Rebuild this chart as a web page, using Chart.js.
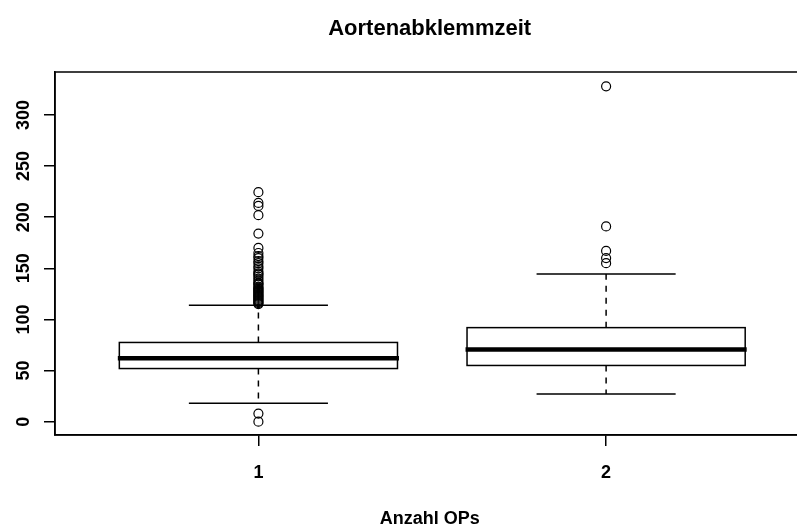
<!DOCTYPE html>
<html>
<head>
<meta charset="utf-8">
<script src="https://cdn.jsdelivr.net/npm/chart.js@4"></script>
<style>
	html, body { margin: 0; padding: 0; overflow: hidden; background: #fff; }
	#wrap { width: 810px; height: 527px; }
</style>
</head>
<body>
<div id="wrap"><canvas id="boxChart" width="810" height="527"></canvas></div>
<script>
// Boxplot statistics per group
const categories = ['1', '2'];
const whiskerLow = [18, 27];
const q1 = [52, 55];
const median = [62, 70.5];
const q3 = [77.5, 92];
const whiskerHigh = [114, 144.5];

const outliers1 = [0, 8, 115, 116, 117, 118, 119, 120, 121, 122, 123, 124, 125, 126, 127, 128, 129, 130,
	131, 132, 134, 135, 136, 138, 140, 142, 144, 145, 147, 150, 152, 155, 157, 160, 162, 165, 170,
	184, 202, 211, 214, 224.5];
const outliers2 = [155, 160, 167, 191, 328];

const yTicks = [0, 50, 100, 150, 200, 250, 300];

const FONT = '"Liberation Sans", Arial, sans-serif';

function boxChartConfig() {
	const boxPlugin = {
		id: 'boxPlugin',
		beforeDatasetsDraw(chart) {
			const { ctx, scales: { x, y } } = chart;
			ctx.save();
			ctx.strokeStyle = '#000';
			categories.forEach((c, i) => {
				const cx = x.getPixelForValue(i + 1);
				const half = x.getPixelForValue(i + 1.4) - cx;
				const capHalf = half / 2;
				const yq1 = y.getPixelForValue(q1[i]);
				const yq3 = y.getPixelForValue(q3[i]);

				// dashed whiskers
				ctx.lineWidth = 1.5;
				ctx.setLineDash([6, 6]);
				ctx.beginPath();
				ctx.moveTo(cx, yq3);
				ctx.lineTo(cx, y.getPixelForValue(whiskerHigh[i]));
				ctx.moveTo(cx, yq1);
				ctx.lineTo(cx, y.getPixelForValue(whiskerLow[i]));
				ctx.stroke();
				ctx.setLineDash([]);

				// caps
				ctx.beginPath();
				[whiskerHigh[i], whiskerLow[i]].forEach(v => {
					const py = y.getPixelForValue(v);
					ctx.moveTo(cx - capHalf, py);
					ctx.lineTo(cx + capHalf, py);
				});
				ctx.stroke();

				// box
				ctx.fillStyle = '#fff';
				ctx.fillRect(cx - half, yq3, half * 2, yq1 - yq3);
				ctx.strokeRect(cx - half, yq3, half * 2, yq1 - yq3);

				// median
				ctx.lineWidth = 4.5;
				ctx.beginPath();
				const ym = y.getPixelForValue(median[i]);
				ctx.moveTo(cx - half - 1.5, ym);
				ctx.lineTo(cx + half + 1.5, ym);
				ctx.stroke();
			});
			ctx.restore();
		},
		afterDraw(chart) {
			const { ctx, chartArea: { left, right, top, bottom }, scales: { y } } = chart;
			ctx.save();
			// frame
			ctx.strokeStyle = '#000';
			ctx.lineWidth = 1.5;
			ctx.strokeRect(left, top, right - left, bottom - top);

			// rotated y tick labels
			ctx.fillStyle = '#000';
			ctx.font = 'bold 18px ' + FONT;
			ctx.textAlign = 'center';
			ctx.textBaseline = 'alphabetic';
			yTicks.forEach(v => {
				ctx.save();
				ctx.translate(29, y.getPixelForValue(v));
				ctx.rotate(-Math.PI / 2);
				ctx.fillText(String(v), 0, 0);
				ctx.restore();
			});
			ctx.restore();
		}
	};

	const canvas = document.getElementById('boxChart');
	if (!canvas) return;
	const ctx = canvas.getContext('2d');

	new Chart(ctx, {
		type: 'scatter',
		data: {
			datasets: [{
				label: categories[0],
				data: outliers1.map(v => ({ x: 1, y: v })),
				pointStyle: 'circle',
				pointRadius: 4.5,
				pointBorderWidth: 1.2,
				pointBorderColor: '#000',
				pointBackgroundColor: 'rgba(0,0,0,0)'
			},
			{
				label: categories[1],
				data: outliers2.map(v => ({ x: 2, y: v })),
				pointStyle: 'circle',
				pointRadius: 4.5,
				pointBorderWidth: 1.2,
				pointBorderColor: '#000',
				pointBackgroundColor: 'rgba(0,0,0,0)'
			}]
		},
		options: {
			responsive: false,
			animation: false,
			devicePixelRatio: 1,
			layout: {
				padding: { left: 0, right: 1, top: 0, bottom: 0 }
			},
			plugins: {
				legend: { display: false },
				tooltip: { enabled: false },
				title: {
					display: true,
					fullSize: false,
					text: 'Aortenabklemmzeit',
					color: '#000',
					font: { family: FONT, size: 22, weight: 'bold', lineHeight: 1.2 },
					padding: { top: 16, bottom: 29.6 }
				}
			},
			scales: {
				x: {
					type: 'linear',
					min: 0.415,
					max: 2.57,
					afterBuildTicks: scale => { scale.ticks = categories.map((c, i) => ({ value: i + 1 })); },
					afterFit: scale => { scale.height = 92; },
					grid: {
						drawOnChartArea: false,
						drawTicks: true,
						tickLength: 11,
						color: '#000',
						lineWidth: 1.5
					},
					border: { display: true, color: '#000', width: 1.5 },
					ticks: {
						color: '#000',
						padding: 16,
						maxRotation: 0,
						font: { family: FONT, size: 18, weight: 'bold' },
						callback: v => categories[v - 1]
					},
					title: {
						display: true,
						text: 'Anzahl OPs',
						color: '#000',
						padding: { top: 0, bottom: -3 },
						font: { family: FONT, size: 18, weight: 'bold' }
					}
				},
				y: {
					min: -13,
					max: 342,
					afterBuildTicks: scale => { scale.ticks = yTicks.map(v => ({ value: v })); },
					afterFit: scale => { scale.width = 55; },
					grid: {
						drawOnChartArea: false,
						drawTicks: true,
						tickLength: 11,
						color: '#000',
						lineWidth: 1.5
					},
					border: { display: true, color: '#000', width: 1.5 },
					ticks: { display: false }
				}
			}
		},
		plugins: [boxPlugin]
	});
}
document.addEventListener('DOMContentLoaded', boxChartConfig);
</script>
</body>
</html>
